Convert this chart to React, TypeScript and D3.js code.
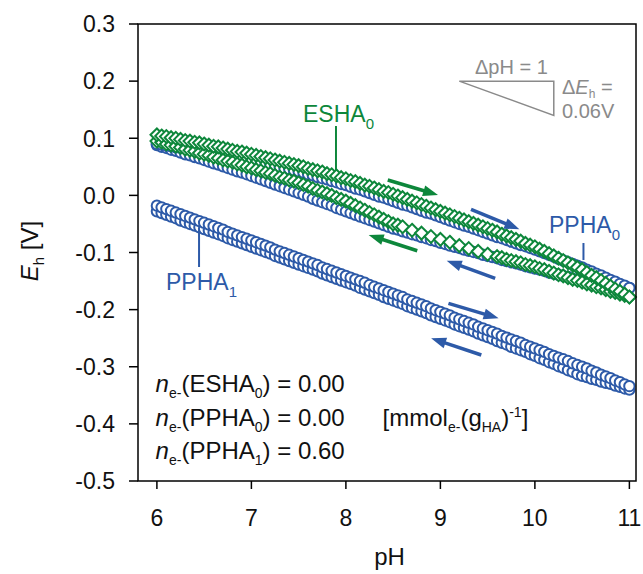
import React from "react";
import * as d3 from "d3";

// pH grid shared by all branches
const PH = [
  6.0, 6.05, 6.1, 6.15, 6.2, 6.25, 6.3, 6.35, 6.4, 6.45, 6.5,
  6.55, 6.6, 6.65, 6.7, 6.75, 6.8, 6.85, 6.9, 6.95, 7.0,
  7.05, 7.1, 7.15, 7.2, 7.25, 7.3, 7.35, 7.4, 7.45, 7.5,
  7.55, 7.6, 7.65, 7.7, 7.75, 7.8, 7.85, 7.9, 7.95, 8.0,
  8.05, 8.1, 8.15, 8.2, 8.25, 8.3, 8.35, 8.4, 8.45, 8.5,
  8.55, 8.6, 8.65, 8.7, 8.75, 8.8, 8.85, 8.9, 8.95, 9.0,
  9.05, 9.1, 9.15, 9.2, 9.25, 9.3, 9.35, 9.4, 9.45, 9.5,
  9.55, 9.6, 9.65, 9.7, 9.75, 9.8, 9.85, 9.9, 9.95, 10.0,
  10.05, 10.1, 10.15, 10.2, 10.25, 10.3, 10.35, 10.4, 10.45, 10.5,
  10.55, 10.6, 10.65, 10.7, 10.75, 10.8, 10.85, 10.9, 10.95, 11.0,
];

// Eh in mV
const ESHA0_FWD = [
  106, 104, 103, 101, 100, 98, 96, 95, 93, 92, 90,
  88, 86, 85, 83, 81, 79, 77, 76, 74, 72,
  70, 68, 66, 64, 62, 60, 58, 56, 54, 52,
  50, 47, 45, 43, 41, 38, 36, 34, 31, 29,
  26, 24, 21, 18, 16, 13, 10, 7, 5, 2,
  -1, -4, -7, -10, -13, -16, -19, -22, -25, -28,
  -31, -34, -37, -40, -43, -46, -49, -52, -55, -58,
  -61, -64, -68, -71, -74, -77, -80, -84, -87, -90,
  -94, -98, -102, -106, -110, -114, -118, -122, -126, -130,
  -135, -140, -144, -149, -154, -159, -164, -168, -173, -178,
];
const ESHA0_REV = [
  95, 93, 90, 88, 86, 84, 81, 79, 77, 74, 72,
  70, 67, 65, 62, 60, 58, 55, 53, 50, 48,
  45, 43, 40, 38, 35, 32, 30, 27, 25, 22,
  19, 16, 12, 9, 6, 3, 0, -4, -7, -10,
  -14, -18, -22, -26, -30, -34, -38, -42, -46, -50,
  -52, -55, null, -61, null, -66, null, -72, null, -77,
  null, -82, null, -88, null, -93, null, -98, null, -103,
  null, -107, -109, -112, -114, -116, -118, -121, -123, -125,
  -128, -130, -133, -136, -139, -141, -144, -147, -149, -152,
  -155, -157, -160, -162, -165, -168, -170, -173, -175, -178,
];
const PPHA0_FWD = [
  90, 89, 87, 86, 84, 83, 82, 80, 79, 77, 76,
  74, 73, 71, 70, 68, 66, 65, 63, 62, 60,
  58, 56, 55, 53, 51, 49, 47, 46, 44, 42,
  40, 37, 35, 32, 30, 28, 25, 23, 20, 18,
  15, 12, 10, 7, 4, 1, -2, -4, -7, -10,
  -13, -16, -18, -21, -24, -27, -30, -32, -35, -38,
  -41, -44, -47, -50, -53, -55, -58, -61, -64, -67,
  -70, -73, -75, -78, -81, -84, -87, -89, -92, -95,
  -98, -101, -104, -107, -111, -114, -117, -120, -123, -126,
  -130, -133, -137, -140, -144, -148, -151, -155, -158, -162,
];
const PPHA0_REV = [
  88, 85, 83, 80, 78, 75, 72, 70, 67, 65, 62,
  59, 56, 54, 51, 48, 45, 42, 40, 37, 34,
  31, 28, 25, 22, 19, 16, 13, 10, 7, 4,
  1, -2, -6, -9, -12, -15, -18, -22, -25, -28,
  -31, -34, -37, -40, -43, -46, -49, -52, -55, -58,
  -60, -63, -65, -68, -70, -73, -75, -78, -80, -83,
  -85, -88, -90, -92, -95, -97, -99, -101, -104, -106,
  -108, -110, -113, -115, -117, -119, -121, -124, -126, -128,
  -130, -132, -135, -137, -139, -141, -143, -146, -148, -150,
  -151, -152, -154, -155, -156, -157, -158, -160, -161, -162,
];
const PPHA1_FWD = [
  -18, -21, -24, -27, -30, -33, -36, -39, -42, -45, -48,
  -51, -54, -57, -60, -64, -67, -70, -73, -76, -79,
  -82, -85, -88, -91, -95, -98, -101, -104, -107, -110,
  -113, -116, -119, -122, -126, -129, -132, -135, -138, -141,
  -144, -147, -150, -153, -157, -160, -163, -166, -169, -172,
  -175, -178, -182, -185, -188, -191, -194, -198, -201, -204,
  -207, -210, -214, -217, -220, -223, -226, -230, -233, -236,
  -239, -242, -246, -249, -252, -255, -258, -262, -265, -268,
  -271, -274, -278, -281, -284, -287, -290, -294, -297, -300,
  -303, -307, -310, -314, -317, -320, -324, -327, -331, -334,
];
const PPHA1_REV = [
  -28, -31, -34, -37, -40, -44, -47, -50, -53, -56, -59,
  -62, -65, -68, -71, -75, -78, -81, -84, -87, -90,
  -93, -96, -99, -102, -106, -109, -112, -115, -118, -121,
  -124, -127, -130, -133, -137, -140, -143, -146, -149, -152,
  -155, -158, -162, -165, -168, -171, -174, -178, -181, -184,
  -187, -190, -194, -197, -200, -203, -206, -210, -213, -216,
  -219, -222, -226, -229, -232, -235, -238, -242, -245, -248,
  -251, -255, -258, -261, -265, -268, -271, -274, -278, -281,
  -285, -288, -292, -295, -299, -302, -306, -309, -313, -316,
  -318, -321, -323, -326, -328, -330, -333, -335, -338, -340,
];

const X_TICKS = [6, 7, 8, 9, 10, 11];
const Y_TICKS = [0.3, 0.2, 0.1, 0.0, -0.1, -0.2, -0.3, -0.4, -0.5];

// arrows: [pH1, E1, pH2, E2] (head at the second point), colour key
const ARROWS: [number, number, number, number, string][] = [
  [8.443, 0.0269, 8.975, 0.0007, "g"],
  [9.324, -0.0244, 9.836, -0.0594, "b"],
  [8.755, -0.0969, 8.241, -0.0694, "g"],
  [9.58, -0.1452, 9.067, -0.1144, "b"],
  [9.085, -0.189, 9.616, -0.2152, "b"],
  [9.433, -0.2794, 8.902, -0.2502, "b"],
];

const BLUE = "#2d5aa8";
const GREEN = "#0d873b";
const GRAY = "#8a8a8a";
const FONT = "'Liberation Sans', Arial, Helvetica, sans-serif";

export default function App() {
  const W = 643;
  const H = 574;
  const L = 138, R = 636, T = 24, B = 481;
  const x = d3.scaleLinear().domain([5.8, 11.07]).range([L, R]);
  const y = d3.scaleLinear().domain([-0.5, 0.3]).range([B, T]);

  const pts = (arr: (number | null)[]) =>
    arr
      .map((v, i) => (v === null ? null : { px: x(PH[i]), py: y(v / 1000) }))
      .filter((d) => d !== null) as { px: number; py: number }[];

  const circles = (arr: (number | null)[], key: string) =>
    pts(arr).map((p, i) => (
      <circle
        key={key + i}
        cx={p.px}
        cy={p.py}
        r={5.2}
        fill="#fff"
        stroke={BLUE}
        strokeWidth={2}
      />
    ));
  const dh = 6.4;
  const diamonds = (arr: (number | null)[], key: string) =>
    pts(arr).map((p, i) => (
      <path
        key={key + i}
        d={`M${p.px},${p.py - dh}L${p.px + dh},${p.py}L${p.px},${p.py + dh}L${p.px - dh},${p.py}Z`}
        fill="#fff"
        stroke={GREEN}
        strokeWidth={2}
      />
    ));

  const arrow = (a: [number, number, number, number, string], i: number) => {
    const x1 = x(a[0]), y1 = y(a[1]), x2 = x(a[2]), y2 = y(a[3]);
    const col = a[4] === "g" ? GREEN : BLUE;
    const dx = x2 - x1, dy = y2 - y1;
    const len = Math.hypot(dx, dy);
    const ux = dx / len, uy = dy / len;
    const hl = 15, hw = 5.5;
    const bx = x2 - ux * hl, by = y2 - uy * hl;
    const head = `M${x2},${y2}L${bx - uy * hw},${by + ux * hw}L${bx + uy * hw},${by - ux * hw}Z`;
    return (
      <g key={"arr" + i}>
        <line x1={x1} y1={y1} x2={bx + ux * 2} y2={by + uy * 2} stroke={col} strokeWidth={3.5} />
        <path d={head} fill={col} />
      </g>
    );
  };

  const sub = 14;
  return (
    <svg
      width={W}
      height={H}
      style={{ position: "absolute", left: 0, top: 0, background: "#fff" }}
      fontFamily={FONT}
    >
      <rect x={0} y={0} width={W} height={H} fill="#fff" />
      {/* data */}
      <g>
        {circles(PPHA1_REV, "p1r")}
        {circles(PPHA1_FWD, "p1f")}
        {circles(PPHA0_REV, "p0r")}
        {circles(PPHA0_FWD, "p0f")}
        {diamonds(ESHA0_REV, "er")}
        {diamonds(ESHA0_FWD, "ef")}
      </g>
      {ARROWS.map(arrow)}

      {/* leader lines */}
      <line x1={x(7.895)} x2={x(7.895)} y1={y(0.1214)} y2={y(0.0444)} stroke={GREEN} strokeWidth={2} />
      <line x1={x(10.514)} x2={x(10.514)} y1={y(-0.0834)} y2={y(-0.1131)} stroke={BLUE} strokeWidth={2} />
      <line x1={x(6.446)} x2={x(6.446)} y1={y(-0.0606)} y2={y(-0.1254)} stroke={BLUE} strokeWidth={2} />

      {/* series labels */}
      <text x={303} y={122} fill={GREEN} fontSize={23}>
        ESHA<tspan dy={7} fontSize={15}>0</tspan>
      </text>
      <text x={549} y={233} fill={BLUE} fontSize={23}>
        PPHA<tspan dy={7} fontSize={15}>0</tspan>
      </text>
      <text x={166} y={290} fill={BLUE} fontSize={23}>
        PPHA<tspan dy={7} fontSize={15}>1</tspan>
      </text>

      {/* slope triangle */}
      <path
        d={`M${x(9.2)},${y(0.2)}L${x(10.2)},${y(0.2)}L${x(10.2)},${y(0.14)}Z`}
        fill="none"
        stroke={GRAY}
        strokeWidth={1.5}
      />
      <text x={475} y={74} fill={GRAY} fontSize={20}>ΔpH = 1</text>
      <text x={562} y={94} fill={GRAY} fontSize={20}>
        Δ<tspan fontStyle="italic">E</tspan>
        <tspan dy={4} fontSize={12}>h</tspan>
        <tspan dy={-4}> =</tspan>
      </text>
      <text x={562} y={118} fill={GRAY} fontSize={20}>0.06V</text>

      {/* n_e annotations */}
      {[
        ["ESHA", "0", "0.00", 392],
        ["PPHA", "0", "0.00", 426],
        ["PPHA", "1", "0.60", 459],
      ].map((r, i) => (
        <text key={"ne" + i} x={155.6} y={r[3] as number} fontSize={24} fill="#111">
          <tspan fontStyle="italic">n</tspan>
          <tspan dy={6} fontSize={sub}>e-</tspan>
          <tspan dy={-6}>({r[0]}</tspan>
          <tspan dy={6} fontSize={sub}>{r[1]}</tspan>
          <tspan dy={-6}>) = {r[2]}</tspan>
        </text>
      ))}
      <text x={382.6} y={426} fontSize={24} fill="#111">
        [mmol<tspan dy={6} fontSize={sub}>e-</tspan>
        <tspan dy={-6}>(g</tspan>
        <tspan dy={6} fontSize={sub}>HA</tspan>
        <tspan dy={-6}>)</tspan>
        <tspan dy={-9} fontSize={sub}>-1</tspan>
        <tspan dy={9}>]</tspan>
      </text>

      {/* frame */}
      <rect x={L} y={T} width={R - L} height={B - T} fill="none" stroke="#000" strokeWidth={1.5} />
      {/* y ticks */}
      {Y_TICKS.map((t) => (
        <g key={"yt" + t}>
          <line x1={L - 9} x2={L} y1={y(t)} y2={y(t)} stroke="#000" strokeWidth={1.5} />
          <text x={115} y={y(t)} dy="0.36em" textAnchor="end" fontSize={23} fill="#111">
            {t.toFixed(1)}
          </text>
        </g>
      ))}
      {/* x ticks */}
      {X_TICKS.map((t) => (
        <g key={"xt" + t}>
          <line x1={x(t)} x2={x(t)} y1={B} y2={B + 8} stroke="#000" strokeWidth={1.5} />
          <text x={x(t)} y={526} textAnchor="middle" fontSize={23} fill="#111">
            {t}
          </text>
        </g>
      ))}
      {/* axis titles */}
      <text x={389.5} y={565} textAnchor="middle" fontSize={24} fill="#111">pH</text>
      <text transform="translate(38,251) rotate(-90)" textAnchor="middle" fontSize={24} fill="#111">
        <tspan fontStyle="italic">E</tspan>
        <tspan dy={6} fontSize={15}>h</tspan>
        <tspan dy={-6}> [V]</tspan>
      </text>
    </svg>
  );
}
